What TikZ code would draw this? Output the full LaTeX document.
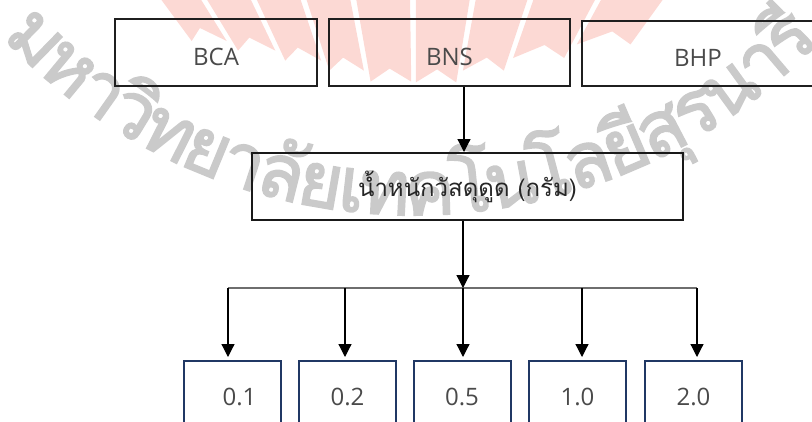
\documentclass[tikz,border=0pt]{standalone}
\usepackage{fontspec}
\setmainfont{Open Sans}
\newfontfamily\thaifont[Script=Thai]{Loma}
\newfontfamily\wmthai[Script=Thai, FakeBold=2.2]{Loma}
\usetikzlibrary{arrows.meta}

\definecolor{boxblue}{HTML}{203864}
\definecolor{labelgray}{HTML}{4A4A4A}
\definecolor{busgray}{HTML}{6E6E6E}
\definecolor{wmgray}{HTML}{CACACA}
\definecolor{logopink}{HTML}{FCD9D4}

\newlength\wmw
\newcommand\wmfont{\wmthai\fontsize{76}{76}\selectfont}
\def\wmlist{ม,ห,า,วิ,ท,ย,า,ลั,ย,เ,ท,ค,โ,น,โ,ล,ยี,สุ,ร,น,า,รี}

\tikzset{
  wmark/.style={text=wmgray, font=\wmfont, inner sep=0pt, anchor=base},
  petal/.style={fill=logopink},
  topbox/.style={draw=black!88, line width=2pt, minimum height=67pt, inner sep=0pt,
    text=labelgray, font=\fontsize{24}{24}\selectfont, text height=25pt, text depth=0pt},
  midbox/.style={draw=black!90, line width=2pt, minimum width=431pt, minimum height=67pt,
    inner sep=0pt, text=black!85, font=\thaifont\fontsize{24}{24}\selectfont},
  valbox/.style={draw=boxblue, line width=2pt, minimum width=97pt, minimum height=72pt,
    inner sep=0pt, anchor=north, text=labelgray, font=\fontsize{24}{24}\selectfont},
  conn/.style={line width=1.2pt, -{Triangle[length=13pt,width=13pt]}},
  bus/.style={line width=1.5pt, draw=busgray}
}

\begin{document}
% widths of the arc lettering, measured once so the letters can be spread along the arc
\let\wmput\relax
\newdimen\wmsumd \wmsumd=0pt
\foreach \ch in \wmlist {%
  \settowidth{\wmw}{\wmfont\ch}%
  \global\advance\wmsumd by \wmw}
\settowidth{\wmw}{\wmfont ม}
\newdimen\wmca \wmca=0.5\wmw
\settowidth{\wmw}{\wmfont รี}
\newdimen\wmcb \wmcb=\wmsumd \advance\wmcb by -0.5\wmw
\pgfmathsetmacro\wmk{88.6/(\wmcb-\wmca)}
\gdef\wmplaced{}
\newdimen\wmrund \wmrund=0pt
\foreach \ch in \wmlist {%
  \settowidth{\wmw}{\wmfont\ch}%
  \pgfmathsetmacro\wmang{-44.3+(\wmrund+\wmw/2-\wmca)*\wmk}%
  \xdef\wmplaced{\unexpanded\expandafter{\wmplaced}\noexpand\wmput{\wmang}{\ch}}%
  \global\advance\wmrund by \wmw}

\begin{tikzpicture}[x=1pt,y=-1pt]
\useasboundingbox (0,0) rectangle (812,421);
\clip (0,0) rectangle (812,421);

% --- background mark: grey lettering set along an arc ---
\def\wmput#1#2{\node[wmark, rotate=#1] at ({413+563*sin(#1)},{-348+563*cos(#1)}) {#2};}
\wmplaced

% --- background mark: pale fan of ribbons ---
\foreach \a/\b in {160/200, 206/250, 256/300, 306/350, 356/410, 416/470, 476/528, 534/596, 602/664}{
  \pgfmathsetmacro\xc{(\a+\b)/2}
  \pgfmathsetmacro\yb{88-0.2*abs(\xc-415)}
  \pgfmathsetmacro\yn{\yb-13}
  \pgfmathsetmacro\la{\a+(415-\a)*\yb/330}
  \pgfmathsetmacro\rb{\b+(415-\b)*\yb/330}
  \pgfmathsetmacro\nx{\xc+(415-\xc)*\yn/330}
  \fill[petal] (\a,-2) -- (\b,-2) -- (\rb,\yb) -- (\nx,\yn) -- (\la,\yb) -- cycle;
}

% --- boxes ---
\node[topbox, minimum width=202pt] (bca) at (216,52.5) {BCA};
\node[topbox, minimum width=241pt] (bns) at (449.5,52.5) {BNS};
\node[topbox, minimum width=232pt, minimum height=65pt] (bhp) at (698,53.5) {BHP};

\node[midbox] (mid) at (467.5,186.5) {น้ำหนักวัสดุดูด (กรัม)};

\node[valbox] (v1) at (232.5,360) {\hspace*{14pt}0.1};
\node[valbox] (v2) at (347.5,360) {0.2};
\node[valbox] (v3) at (462,360) {0.5};
\node[valbox] (v4) at (577.5,360) {1.0};
\node[valbox] (v5) at (693.5,360) {2.0};

% --- connectors ---
\coordinate (t1) at (228,288);
\coordinate (t2) at (345,288);
\coordinate (hub) at (463,288);
\coordinate (t4) at (582,288);
\coordinate (t5) at (697,288);

\draw[conn] ([xshift=14.5pt]bns.south) -- ([xshift=-3.5pt]mid.north);
\draw[bus] (t1) -- (t5);
\draw[conn] ([xshift=-4.5pt]mid.south) -- (hub);
\foreach \t/\v in {t1/v1, t2/v2, hub/v3, t4/v4, t5/v5}
  \draw[conn, shorten >=3pt] (\t) -- (\t |- \v.north);
\end{tikzpicture}
\end{document}
